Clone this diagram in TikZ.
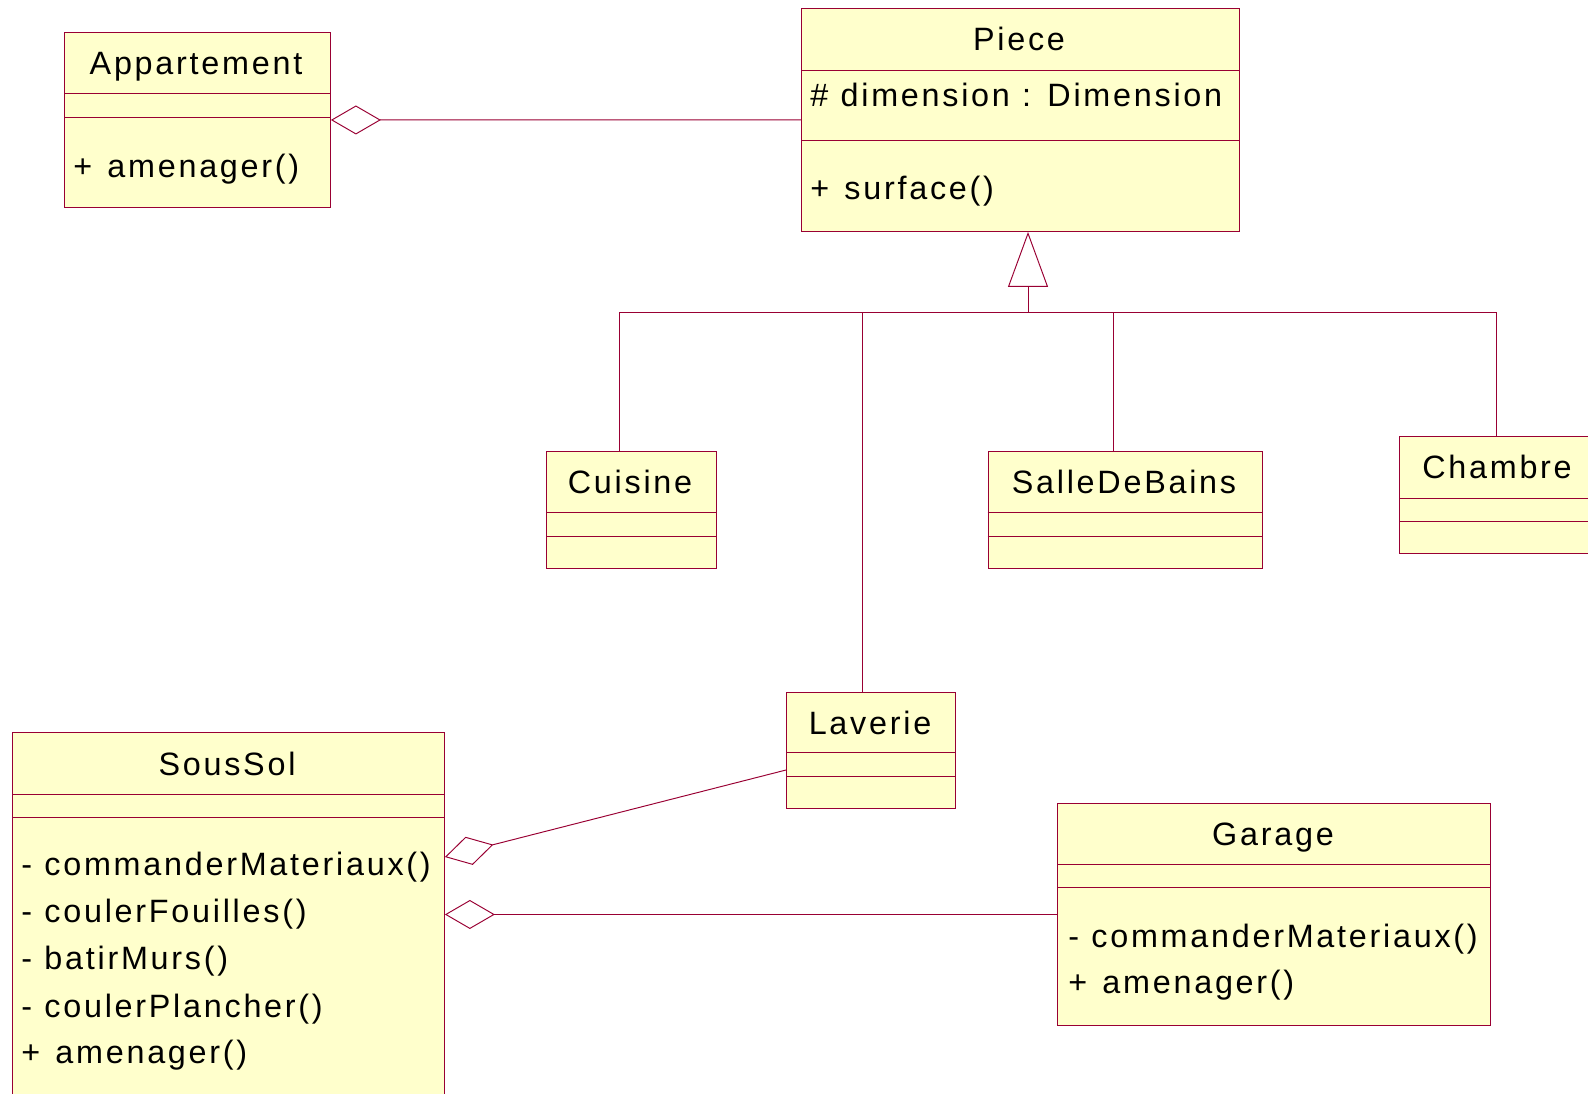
\documentclass[tikz,border=0pt]{standalone}
\usepackage{fontspec}
\setmainfont{Liberation Sans}[LetterSpace=8.5,WordSpace=1.05]
\usepackage{tikz}
\usetikzlibrary{calc}
\usetikzlibrary{arrows.meta}
\definecolor{umlline}{HTML}{990033}
\definecolor{umlfill}{HTML}{FFFFCC}
\newcommand{\pub}{+\hspace{0.47em}}

\begin{document}
\begin{tikzpicture}[x=0.02cm,y=-0.02cm,
        classbox/.style={draw=umlline,fill=umlfill,line width=0.55pt,anchor=north west,inner sep=0pt},
        link/.style={draw=umlline,line width=0.55pt},
        agg/.style={-{Diamond[open,length=1cm,width=0.58cm]}},
        gen/.style={-{Triangle[open,length=1.1cm,width=0.8cm]}},
        label/.style={font=\fontsize{18.4}{22}\selectfont,inner sep=0pt}]
        \useasboundingbox (0,0) rectangle (1588,1093);
        \clip (0,0) rectangle (1588,1093);
        % classes
        \node[classbox,minimum width=5.32cm,minimum height=3.5cm] (appart) at (64,32) {};
        \node[classbox,minimum width=8.76cm,minimum height=4.46cm] (piece) at (801,8) {};
        \node[classbox,minimum width=3.4cm,minimum height=2.34cm] (cuisine) at (546,451) {};
        \node[classbox,minimum width=5.49cm,minimum height=2.34cm] (salle) at (987.5,451) {};
        \node[classbox,minimum width=3.86cm,minimum height=2.34cm] (chambre) at (1399,436) {};
        \node[classbox,minimum width=3.38cm,minimum height=2.32cm] (laverie) at (786,692) {};
        \node[classbox,minimum width=8.64cm,minimum height=7.56cm] (soussol) at (12,732) {};
        \node[classbox,minimum width=8.66cm,minimum height=4.44cm] (garage) at (1057,803) {};
        % compartments
        \draw[link] (64,93) -- (330,93) (64,117) -- (330,117);
        \draw[link] (801,70) -- (1239,70) (801,140) -- (1239,140);
        \draw[link] (546,512.5) -- (716,512.5) (546,536) -- (716,536);
        \draw[link] (987.5,512.5) -- (1262,512.5) (987.5,536) -- (1262,536);
        \draw[link] (1399,498) -- (1592,498) (1399,521) -- (1592,521);
        \draw[link] (786,752.5) -- (955,752.5) (786,776) -- (955,776);
        \draw[link] (12,794) -- (444,794) (12,817) -- (444,817);
        \draw[link] (1057,864) -- (1490,864) (1057,887) -- (1490,887);
        % names
        \node[label,anchor=base] (appartT) at (196,74) {Appartement};
        \node[label,anchor=base] (pieceT) at (1019,50) {Piece};
        \node[label,anchor=base] (cuisineT) at (630,493) {Cuisine};
        \node[label,anchor=base] (salleT) at (1124,493) {SalleDeBains};
        \node[label,anchor=base] (chambreT) at (1497,478) {Chambre};
        \node[label,anchor=base] (laverieT) at (870,734) {Laverie};
        \node[label,anchor=base] (soussolT) at (227,775) {SousSol};
        \node[label,anchor=base] (garageT) at (1273,845) {Garage};
        % members
        \node[label,anchor=base west] (appartM) at (73,177) {\pub amenager()};
        \node[label,anchor=base west] (pieceA) at (810,106) {\# dimension : Dimension};
        \node[label,anchor=base west] (pieceM) at (810,199) {\pub surface()};
        \node[label,anchor=base west] (soussolM1) at (21,875) {- commanderMateriaux()};
        \node[label,anchor=base west] (soussolM2) at (21,922) {- coulerFouilles()};
        \node[label,anchor=base west] (soussolM3) at (21,969) {- batirMurs()};
        \node[label,anchor=base west] (soussolM4) at (21,1017) {- coulerPlancher()};
        \node[label,anchor=base west] (soussolM5) at (21,1063) {\pub amenager()};
        \node[label,anchor=base west] (garageM1) at (1068,947) {- commanderMateriaux()};
        \node[label,anchor=base west] (garageM2) at (1068,993) {\pub amenager()};
        % inheritance
        \coordinate (bus) at (1028,312);
        \coordinate (bcui) at (619,312);
        \coordinate (blav) at (862,312);
        \coordinate (bsal) at (1113,312);
        \coordinate (bcha) at (1496,312);
        \draw[link,gen] (bus) -- (bus |- piece.south);
        \draw[link] (bcui) -- (bcha);
        \draw[link] (bcui) -- (bcui |- cuisine.north);
        \draw[link] (blav) -- (blav |- laverie.north);
        \draw[link] (bsal) -- (bsal |- salle.north);
        \draw[link] (bcha) -- (bcha |- chambre.north);
        % aggregations
        \draw[link,agg] (piece.west) -- (appart.east);
        \draw[link,agg] ($(laverie.north west)+(0,78)$) -- ($(soussol.north east)+(0,125)$);
        \draw[link,agg] (garage.west) -- (garage.west -| soussol.east);
\end{tikzpicture}
\end{document}
